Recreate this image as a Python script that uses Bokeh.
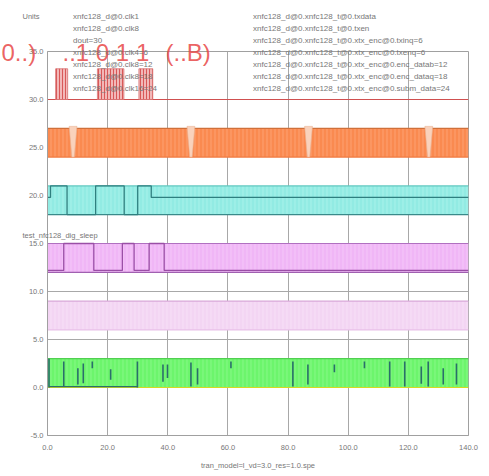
from bokeh.plotting import figure
from bokeh.models import Legend, LegendItem, Label, FixedTicker, NumeralTickFormatter, ColumnDataSource
from bokeh.embed import file_html
from bokeh.resources import INLINE

# ---------------- data ----------------
x_ticks = [0, 20, 40, 60, 80, 100, 120, 140]
y_ticks = [-5, 0, 5, 10, 15, 20, 25, 30, 35]
x_lim = [0.0, 140.0]
y_lim = [-5.0, 35.0]

# dense digital buses drawn as filled bands
band_names = ["txen", "enc_dataq", "enc_datab", "txinq", "clk8"]
band_t0 = [0.0, 0.0, 0.0, 0.0, 0.0]
band_t1 = [140.0, 140.0, 140.0, 140.0, 140.0]
band_low = [24.0, 18.0, 12.0, 6.0, 0.0]
band_high = [27.0, 21.0, 15.0, 9.0, 3.0]

# glitches in the txen band (centre times)
orange_glitch_t = [8.5, 47.7, 86.8, 126.8]

# enc_dataq single waveform (step, value after each time)
cyan_t = [0.0, 1.0, 6.5, 16.0, 25.5, 30.0, 34.5, 140.0]
cyan_v = [19.8, 21.0, 18.0, 21.0, 18.0, 21.0, 19.8, 19.8]

# enc_datab single waveform
mag_t = [0.0, 5.4, 15.4, 24.9, 28.8, 33.8, 38.8, 140.0]
mag_v = [12.2, 15.0, 12.2, 15.0, 12.2, 15.0, 12.2, 12.2]

# clk8 pulses
green_pulse_t = [0.5, 5.4, 10.1, 11.9, 14.9, 21.0, 29.9, 38.4, 39.9, 47.7, 49.9, 61.0,
                 81.6, 86.6, 95.4, 105.4, 113.8, 118.8, 124.3, 126.6, 131.6, 136.0]
green_pulse_lo = [0.0, 0.1, 0.3, 0.45, 2.0, 0.8, 0.0, 0.6, 1.0, 0.1, 0.3, 2.0,
                  0.1, 0.3, 1.6, 2.0, 0.1, 0.1, 0.4, 0.1, 0.3, 0.3]
green_pulse_hi = [3.0, 2.7, 2.0, 2.5, 2.7, 1.9, 2.7, 2.4, 2.4, 2.6, 2.0, 2.7,
                  2.7, 2.4, 2.4, 2.7, 2.7, 2.7, 2.2, 2.7, 2.0, 2.5]
green_base_t = [0.5, 30.0]
green_base_v = [0.1, 0.1]

# dout bursts
dout_level = 30.0
dout_span = [0.0, 140.0]
red_burst_t0 = [2.7, 16.6, 30.4]
red_burst_t1 = [6.7, 25.4, 35.0]
red_burst_lo = [30.0, 30.0, 30.0]
red_burst_hi = [33.2, 33.2, 33.2]

left_labels = ["xnfc128_d@0.clk1", "xnfc128_d@0.clk8", "dout=30", "xnfc128_d@0.clk4=6",
               "xnfc128_d@0.clk8=12", "xnfc128_d@0.clk8=18", "xnfc128_d@0.clk16=24"]
right_labels = ["xnfc128_d@0.xnfc128_t@0.txdata",
                "xnfc128_d@0.xnfc128_t@0.txen",
                "xnfc128_d@0.xnfc128_t@0.xtx_enc@0.txinq=6",
                "xnfc128_d@0.xnfc128_t@0.xtx_enc@0.txenq=6",
                "xnfc128_d@0.xnfc128_t@0.xtx_enc@0.enc_datab=12",
                "xnfc128_d@0.xnfc128_t@0.xtx_enc@0.enc_dataq=18",
                "xnfc128_d@0.xnfc128_t@0.xtx_enc@0.subm_data=24"]
overlay_texts = ["0..)", "..1 0 1 1", "(..B)"]

# ---------------- styles / layout ----------------
W, H = 489, 476
BL, BR, BT, BB = 47, 21, 51, 41
band_fill = ["#fa8a50", "#92ebe3", "#f0b6f6", "#f3d5f3", "#6cf56c"]
band_hatch = ["#ffb088", "#b8f6f0", "#f8d2fa", "#f8e6f8", "#98fa98"]
band_top_col = ["#d0703a", "#60c8c0", "#b070c0", "#d8a8d8", "#50d050"]
band_bot_col = ["#f07a40", "#3a8a8a", "#a060b0", "#e8c0e8", "#d8d820"]
left_colors = ["#7070ff", "#60e060", "#c06060", "#e0c0a0", "#f0a8f0", "#c060c0", "#c04848"]
right_colors = ["#f06050", "#f0b040", "#f0dcc0", "#909090", "#e090f0", "#b050b0", "#c04040"]
FONT = "Liberation Sans"
TXT = "#777777"

p = figure(width=W, height=H, output_backend="svg", toolbar_location=None,
           x_range=tuple(x_lim), y_range=tuple(y_lim),
           min_border_left=BL, min_border_right=BR, min_border_top=BT, min_border_bottom=BB)
p.title.visible = False
p.background_fill_color = "white"
p.outline_line_color = "#a0a0a0"

bands = ColumnDataSource(dict(t0=band_t0, t1=band_t1, lo=band_low, hi=band_high,
                              fill=band_fill, hatch=band_hatch, top=band_top_col, bot=band_bot_col))
p.quad(left="t0", right="t1", bottom="lo", top="hi", source=bands,
       fill_color="fill", line_color=None,
       hatch_pattern="vertical_line", hatch_color="hatch", hatch_alpha=0.6, hatch_scale=4, hatch_weight=1)
p.segment(x0="t0", x1="t1", y0="hi", y1="hi", line_color="top", line_width=1.2, source=bands)
p.segment(x0="t0", x1="t1", y0="lo", y1="lo", line_color="bot", line_width=1.2, source=bands)

gx, gy = [], []
for c in orange_glitch_t:
    gx.append([c - 1.3, c + 1.3, c + 0.4, c - 0.4])
    gy.append([band_high[0] + 0.2, band_high[0] + 0.2, band_low[0], band_low[0]])
p.patches(gx, gy, fill_color="#f9d2bc", line_color="#eab090", line_width=0.6)

p.step(cyan_t, cyan_v, mode="after", line_color="#2f7f7f", line_width=1.3)
p.step(mag_t, mag_v, mode="after", line_color="#9a4fa6", line_width=1.3)
p.segment(x0=green_pulse_t, x1=green_pulse_t, y0=green_pulse_lo, y1=green_pulse_hi,
          line_color="#2a6f6a", line_width=1.6)
p.line(green_base_t, green_base_v, line_color="#2a6f6a", line_width=1.3)

p.line(dout_span, [dout_level, dout_level], line_color="#d05050", line_width=1.2)
p.quad(left=red_burst_t0, right=red_burst_t1, bottom=red_burst_lo, top=red_burst_hi,
       fill_color="#f2b8b8", line_color="#d87070", line_width=0.8,
       hatch_pattern="vertical_line", hatch_color="#d85858", hatch_scale=3, hatch_weight=1)

p.xaxis.ticker = FixedTicker(ticks=x_ticks)
p.yaxis.ticker = FixedTicker(ticks=y_ticks)
p.xaxis.formatter = NumeralTickFormatter(format="0.0")
p.yaxis.formatter = NumeralTickFormatter(format="0.0")
for ax in (p.xaxis[0], p.yaxis[0]):
    ax.axis_line_color = "#a0a0a0"
    ax.major_tick_line_color = None
    ax.minor_tick_line_color = None
    ax.major_tick_out = 0
    ax.major_tick_in = 0
    ax.minor_tick_out = 0
    ax.major_label_text_font = FONT
    ax.major_label_text_font_size = "7.5px"
    ax.major_label_text_color = TXT
p.yaxis.major_label_standoff = 4
p.xaxis.major_label_standoff = 9
p.xaxis.axis_label = "tran_model=l_vd=3.0_res=1.0.spe"
p.xaxis.axis_label_text_font = FONT
p.xaxis.axis_label_text_font_size = "7.5px"
p.xaxis.axis_label_text_font_style = "normal"
p.xaxis.axis_label_text_color = TXT
p.xaxis.axis_label_standoff = 8
p.grid.grid_line_color = "#a8a8a8"
p.grid.grid_line_width = 1

# ---------- transparent overlay figure for legends / free texts (not clipped) ----------
sx = (W - BL - BR) / (x_lim[1] - x_lim[0])
sy = (H - BT - BB) / (y_lim[1] - y_lim[0])
q = figure(width=W, height=H, output_backend="svg", toolbar_location=None,
           x_range=(x_lim[0] - BL / sx, x_lim[1] + BR / sx),
           y_range=(y_lim[0] - BB / sy, y_lim[1] + BT / sy),
           x_axis_type=None, y_axis_type=None, min_border=0,
           min_border_left=0, min_border_right=0, min_border_top=0, min_border_bottom=0)
q.title.visible = False
q.background_fill_color = None
q.border_fill_color = None
q.outline_line_color = None
q.margin = (-H, 0, 0, 0)


def make_legend(labels, colors, loc):
    items = []
    for lab, col in zip(labels, colors):
        r = q.line(x=[], y=[], line_color=col, line_width=1.5)
        items.append(LegendItem(label=lab, renderers=[r]))
    lg = Legend(items=items, location=loc, background_fill_alpha=0, border_line_alpha=0,
                label_text_font=FONT, label_text_font_size="8px", label_text_color=TXT,
                glyph_width=20, glyph_height=10, label_height=10, spacing=2,
                padding=0, margin=0, label_standoff=5)
    q.add_layout(lg, "center")


make_legend(left_labels, left_colors, (48, 383))
make_legend(right_labels, right_colors, (228, 383))


def px_t(x):
    return x_lim[0] + (x - BL) / sx


def py_v(y):
    return y_lim[1] - (y - BT) / sy


q.add_layout(Label(x=px_t(22), y=py_v(16), text="Units", text_font=FONT, text_font_size="7.5px",
                   text_color=TXT, text_baseline="middle"))
q.add_layout(Label(x=px_t(22), y=py_v(235), text="test_nfc128_dig_sleep", text_font=FONT,
                   text_font_size="7.5px", text_color=TXT, text_baseline="middle"))

for tx, xx in zip(overlay_texts, [1, 62, 165]):
    q.add_layout(Label(x=px_t(xx), y=py_v(52), text=tx, text_font=FONT, text_font_size="24px",
                       text_color="#e84848", text_alpha=0.85, text_baseline="middle"))

open("out.html", "w").write(file_html([p, q], INLINE))
